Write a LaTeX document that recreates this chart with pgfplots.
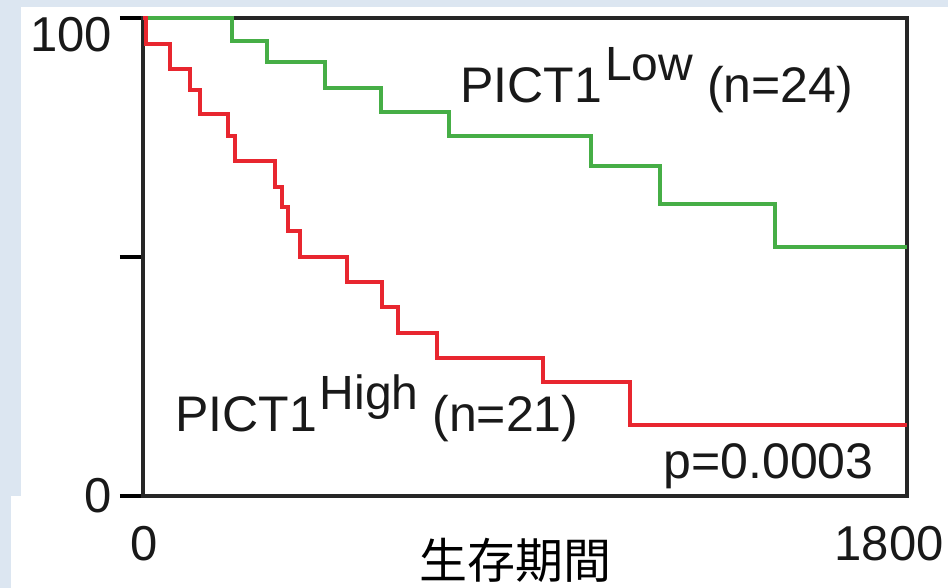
\documentclass[border=0pt]{standalone}
\usepackage{pgfplots}
\pgfplotsset{compat=1.18}
\usepackage{fontspec}
\setmainfont{Liberation Sans}
\newfontfamily\cjk{Noto Sans CJK JP}
\definecolor{bgblue}{HTML}{DCE6F1}
\definecolor{kmgreen}{HTML}{46AE46}
\definecolor{kmred}{HTML}{E8262F}
\begin{document}
\begin{tikzpicture}
\path[use as bounding box] (-71.5pt,-46pt) rectangle (402.5pt,248pt);
\fill[bgblue] (-71.5pt,-46pt) rectangle (402.5pt,248pt);
\fill[white] (-61pt,-46pt) rectangle (402.5pt,244.5pt);
\fill[white] (-66pt,-46pt) rectangle (-61pt,0pt);
\begin{axis}[
  at={(0pt,0pt)}, anchor=south west,
  scale only axis, width=382pt, height=239pt,
  xmin=0, xmax=1800, ymin=0, ymax=100,
  axis line style={line width=1.6pt, black!85},
  ytick={0,50,100}, yticklabels={0,,{\smash{\raisebox{-17pt}{100}}}},
  ytick pos=left, xtick pos=bottom,
  tick align=outside, major tick length=11.5pt,
  tick style={line width=1.6pt, black},
  xtick={3,1758}, xticklabels={0,1800},
  x tick style={draw=none},
  ticklabel style={font=\fontsize{24.5}{28}\selectfont, text=black!90},
  yticklabel style={xshift=-0.5pt},
  /pgf/number format/assume math mode=true,
  clip=false,
]
\addplot[const plot, kmgreen, line width=2pt] coordinates {
  (0,100) (210,95.2) (292,90.8) (429,85.4) (561,80.3) (721,75.3)
  (1056,69.0) (1218,61.1) (1489,52.1) (1800,52.1)
};
\addplot[const plot, kmred, line width=2pt] coordinates {
  (0,100) (7,94.6) (64,89.3) (111,84.9) (134,79.9) (200,75.3) (217,70.1)
  (311,64.6) (328,60.5) (342,55.4) (370,50.0) (481,44.8) (563,39.5)
  (601,34.1) (693,28.9) (943,23.8) (1148,14.9) (1800,14.9)
};
\node[anchor=base west, inner sep=0pt, font=\fontsize{25}{28}\selectfont, text=black!90]
  at (axis cs:747,82.4) {PICT1\hspace{1.5pt}\raisebox{11pt}{\fontsize{24}{26}\selectfont Low} (n=24)};
\node[anchor=base west, inner sep=0pt, font=\fontsize{25}{28}\selectfont, text=black!90]
  at (axis cs:75,13.4) {PICT1\hspace{1.5pt}\raisebox{11pt}{\fontsize{24}{26}\selectfont High} (n=21)};
\node[anchor=base east, inner sep=0pt, font=\fontsize{25}{28}\selectfont, text=black!90]
  at (axis cs:1722,3.6) {p=0.0003};
\node[anchor=base, inner sep=0pt, font=\fontsize{24}{28}\cjk, text=black]
  at (axis cs:877,-17.2) {生存期間};
\end{axis}
\end{tikzpicture}
\end{document}
